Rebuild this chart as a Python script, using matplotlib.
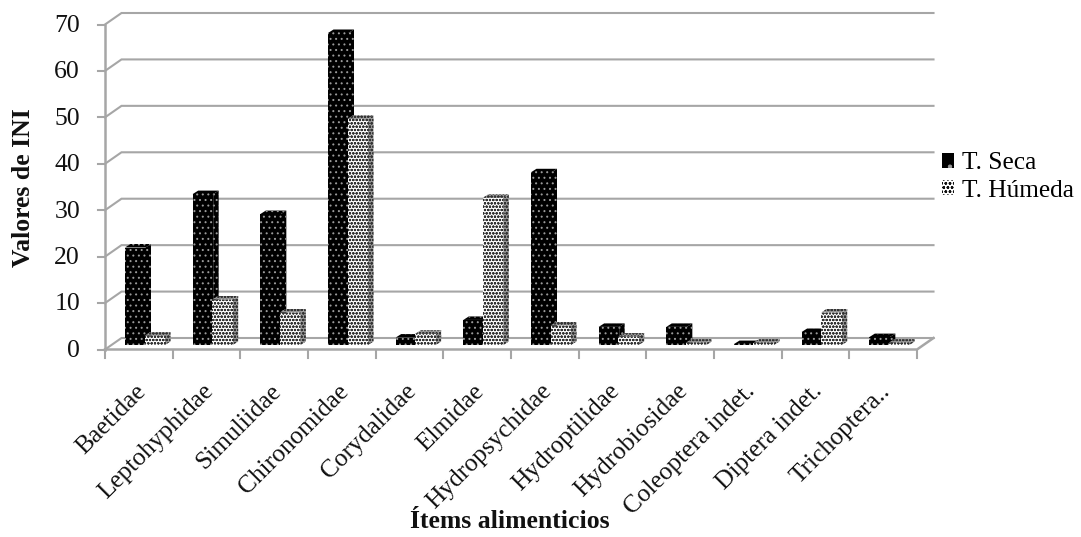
import matplotlib
matplotlib.use("Agg")
import matplotlib.pyplot as plt
from matplotlib.patches import Polygon, Patch

categories = ["Baetidae", "Leptohyphidae", "Simuliidae", "Chironomidae", "Corydalidae", "Elmidae",
              "Hydropsychidae", "Hydroptilidae", "Hydrobiosidae", "Coleoptera indet.", "Diptera indet.", "Trichoptera.."]
seca = [21, 32.5, 28.2, 67.2, 1.6, 5.4, 37.2, 3.9, 3.9, 0.2, 2.8, 1.7]
humeda = [2, 9.8, 7, 48.7, 2.4, 31.7, 4.2, 1.8, 0.5, 0.5, 7, 0.5]
yticks = [0, 10, 20, 30, 40, 50, 60, 70]

W, H = 1081, 537
L, R, T, B = 105, 917, 24.5, 349.5
GREY = "#a6a6a6"
plt.rcParams["font.family"] = ["Liberation Serif", "DejaVu Serif"]
plt.rcParams["hatch.linewidth"] = 0.7

fig = plt.figure(figsize=(W / 100, H / 100), dpi=100, facecolor="white")
ax = fig.add_axes([L / W, 1 - B / H, (R - L) / W, (B - T) / H])
ax.set_xlim(0, 12)
ax.set_ylim(0, 70)
ax.axis("off")

px = 12 / (R - L)      # category units per pixel
py = 70 / (B - T)      # value units per pixel
DX, DY = 16.5 * px, 11.5 * py

# walls and gridlines
for v in yticks:
    ax.plot([0, DX, 12 + DX], [v, v + DY, v + DY], color=GREY, lw=1.5, clip_on=False, zorder=1,
            solid_joinstyle="miter")
    ax.plot([-7 * px, 0], [v, v], color=GREY, lw=1.5, clip_on=False, zorder=1)
    ax.text(-25 * px, v - 0.3, str(v), ha="right", va="center", fontsize=18.5, color="#111111", clip_on=False)
ax.plot([0, 0], [0, 70], color=GREY, lw=1.8, clip_on=False, zorder=2)
ax.plot([0, 12, 12 + DX], [0, 0, DY], color=GREY, lw=1.8, clip_on=False, zorder=2)
for i in range(13):
    ax.plot([i, i], [0, -8 * py], color=GREY, lw=1.5, clip_on=False, zorder=2)


def bar3d(x0, value, face, hatch, hcolor, side):
    """Bar with front, side and top faces, drawn from a value in data units."""
    base = 4.5 * py
    w, dx, dy = 20.5 * px, 5.5 * px, 3.5 * py
    y1 = base + value
    ax.add_patch(Polygon([(x0 + w, base), (x0 + w + dx, base + dy), (x0 + w + dx, y1 + dy), (x0 + w, y1)],
                         facecolor=side, edgecolor=hcolor, hatch=hatch, lw=0, zorder=3, clip_on=False))
    ax.add_patch(Polygon([(x0, y1), (x0 + dx, y1 + dy), (x0 + w + dx, y1 + dy), (x0 + w, y1)],
                         facecolor=side, edgecolor=hcolor, hatch=hatch, lw=0, zorder=3, clip_on=False))
    ax.add_patch(Polygon([(x0, base), (x0 + w, base), (x0 + w, y1), (x0, y1)],
                         facecolor=face, edgecolor=hcolor, hatch=hatch, lw=0, zorder=3, clip_on=False))


for i, s in enumerate(seca):
    bar3d(i + 20 * px, s, "#000000", "...", "#9a9a9a", "#000000")
for i, h in enumerate(humeda):
    bar3d(i + 39.5 * px, h, "#ffffff", "ooooo", "#333333", "#9a9a9a")

for i, name in enumerate(categories):
    ax.annotate(name, xy=(i + 0.5, 0), xytext=(-3, -22), textcoords="offset points",
                rotation=45, rotation_mode="anchor", ha="right", va="top",
                fontsize=18.3, color="#111111", annotation_clip=False)

fig.text(24 / W, 1 - 188 / H, "Valores de INI", rotation=90, ha="center", va="center",
         fontsize=18.5, fontweight="bold", color="#111111")
fig.text(510 / W, 1 - 522 / H, "Ítems alimenticios", ha="center", va="center",
         fontsize=18.5, fontweight="bold", color="#111111")

handles = [Patch(facecolor="#000000", edgecolor="#9a9a9a", hatch=".", lw=0, label="T. Seca"),
           Patch(facecolor="#ffffff", edgecolor="#111111", hatch="oooo", lw=0, label="T. Húmeda")]
fig.legend(handles=handles, loc="center left", bbox_to_anchor=(941.5 / W, 1 - 177 / H), frameon=False,
           fontsize=18.3, handlelength=0.5, handleheight=0.5, handletextpad=0.3, labelspacing=0.2,
           borderpad=0, borderaxespad=0)

fig.savefig("out.png", dpi=100, facecolor="white")
